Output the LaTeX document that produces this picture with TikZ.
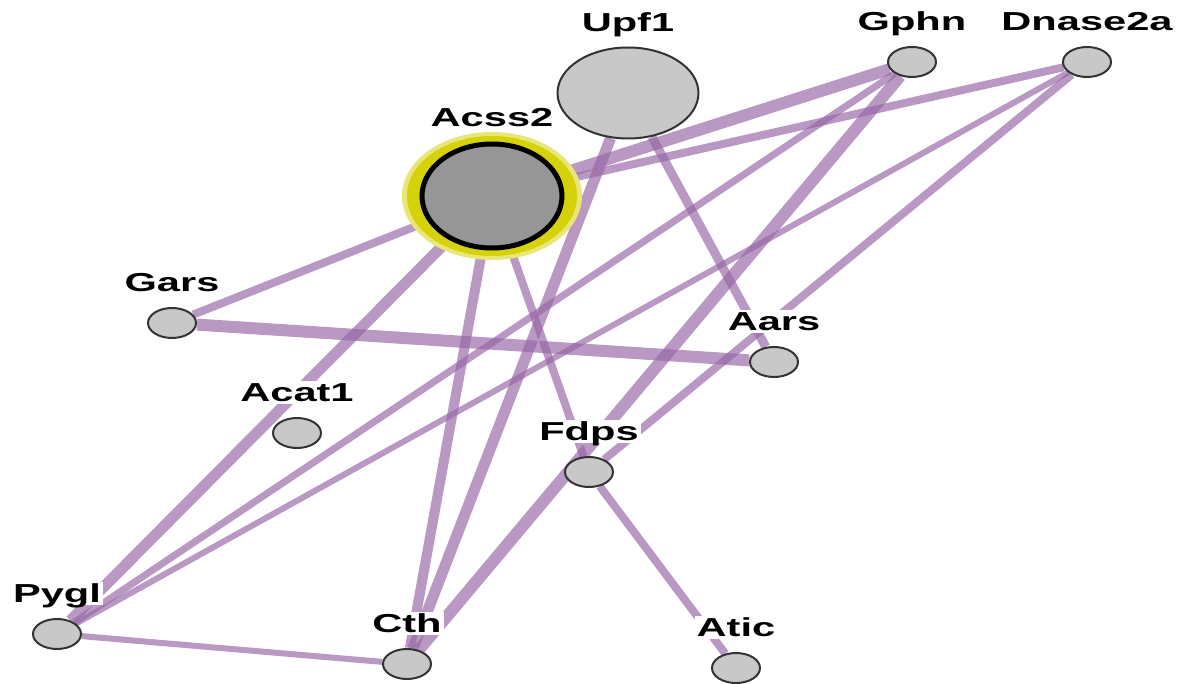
\documentclass[tikz,border=0pt]{standalone}
\usepackage{fontspec}
\newfontfamily\lblfont{Liberation Sans}
\usetikzlibrary{shapes.geometric,backgrounds}

\definecolor{edgepurple}{RGB}{152,104,166}
\definecolor{nodegray}{RGB}{200,200,200}
\definecolor{seedgray}{RGB}{150,150,150}
\definecolor{haloyellow}{RGB}{214,210,10}
\newcommand{\gname}[1]{\scalebox{1.6}[1]{#1}}

\begin{document}
\begin{tikzpicture}[
    x=0.5pt, y=-0.5pt,
    label distance=6.5pt,
    gene/.style={ellipse, draw=black!80, line width=1pt, fill=nodegray,
      minimum width=24pt, minimum height=15pt, inner sep=0pt},
    hub/.style={gene, minimum width=70.5pt, minimum height=45.5pt},
    seed/.style={ellipse, draw=black, line width=2.5pt, fill=seedgray,
      minimum width=70pt, minimum height=52pt, inner sep=0pt},
    lbl/.style={font=\lblfont\bfseries\fontsize{13}{13}\selectfont, fill=white,
      inner sep=1pt, text height=9.4pt, text depth=0pt},
    link/.style={draw=edgepurple, draw opacity=0.68, line width=#1},
    link/.default=4pt
  ]
  \useasboundingbox (0,0) rectangle (1189,684);

  % 节点
  \node[hub]  (upf1)  at (628,93)  [label={[lbl]above:\gname{Upf1}}] {};
  \node[seed] (acss2) at (492,196) [label={[lbl]above:\gname{Acss2}}] {};
  \node[gene] (gphn)  at (912,62)  [label={[lbl]above:\gname{Gphn}}] {};
  \node[gene] (dnase) at (1087,62) [label={[lbl]above:\gname{Dnase2a}}] {};
  \node[gene] (gars)  at (172,323) [label={[lbl]above:\gname{Gars}}] {};
  \node[gene] (aars)  at (774,362) [label={[lbl]above:\gname{Aars}}] {};
  \node[gene] (acat1) at (297,433) [label={[lbl]above:\gname{Acat1}}] {};
  \node[gene] (fdps)  at (589,472) [label={[lbl]above:\gname{Fdps}}] {};
  \node[gene] (pygl)  at (57,634)  [label={[lbl]above:\gname{Pygl}}] {};
  \node[gene] (cth)   at (407,664) [label={[lbl]above:\gname{Cth}}] {};
  \node[gene] (atic)  at (736,668) [label={[lbl]above:\gname{Atic}}] {};

  % 边（在节点之下）
  \begin{scope}[on background layer]
    \draw[link=6pt]   (acss2) -- (gphn);
    \draw[link=6pt]   (gars) -- (aars);
    \draw[link=5.5pt] (acss2) -- (pygl);
    \draw[link=6pt]   (gphn) -- (cth);
    \draw[link=5.5pt] (upf1) -- (cth);
    \draw[link=5pt]   (acss2) -- (cth);
    \draw[link]       (acss2) -- (fdps);
    \draw[link]       (acss2) -- (gars);
    \draw[link]       (acss2) -- (dnase);
    \draw[link=4.5pt] (upf1) -- (aars);
    \draw[link=3.5pt] (pygl) -- (gphn);
    \draw[link=3pt]   (pygl) -- (dnase);
    \draw[link]       (dnase) -- (fdps);
    \draw[link]       (fdps) -- (atic);
    \draw[link=3pt]   (pygl) -- (cth);

    % 种子基因的黄色光环
    \fill[haloyellow!55!white] (acss2.center) ellipse [x radius=45pt, y radius=32pt];
    \fill[haloyellow] (acss2.center) ellipse [x radius=42.5pt, y radius=30pt];
  \end{scope}

\end{tikzpicture}
\end{document}
